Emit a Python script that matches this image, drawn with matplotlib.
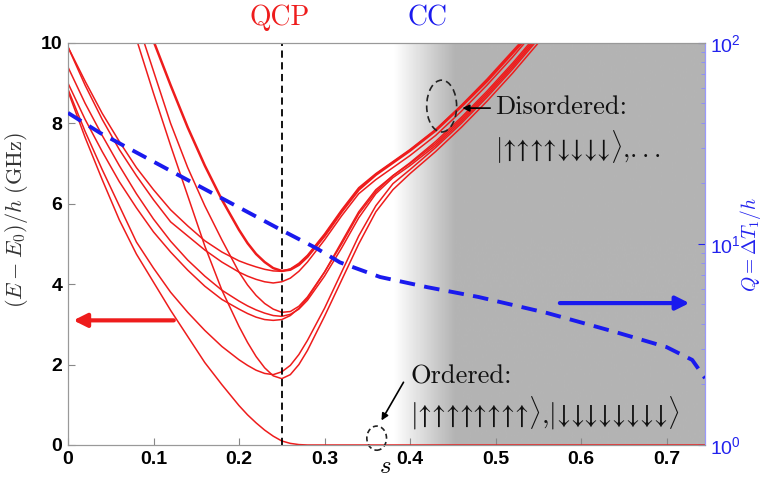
import numpy as np
import matplotlib
matplotlib.use("Agg")
import matplotlib.pyplot as plt
from matplotlib.patches import Ellipse

plt.rcParams['mathtext.fontset'] = 'cm'
plt.rcParams['font.family'] = ['Liberation Sans', 'DejaVu Sans']

nan = np.nan

# annealing parameter s (shared grid for the spectrum)
S = [0.00, 0.02, 0.04, 0.06, 0.08, 0.10, 0.12, 0.14, 0.16, 0.18, 0.20, 0.21, 0.22, 0.23,
     0.24, 0.25, 0.26, 0.27, 0.28, 0.30, 0.32, 0.34, 0.36, 0.38, 0.40, 0.43, 0.46, 0.49,
     0.52, 0.55, 0.745]

# (E - E0)/h in GHz
G  = [8.8, 7.65, 6.6, 5.6, 4.75, 4.05, 3.35, 2.7, 2.05, 1.5, 0.98, 0.75, 0.55, 0.37, 0.22,
      0.1, 0.04, 0.01, 0, 0, 0, 0, 0, 0, 0, 0, 0, 0, 0, 0, 0]
D1 = [8.85, 7.8, 6.85, 5.95, 5.05, 4.4, 3.8, 3.3, 2.85, 2.45, 2.12, 1.98, 1.86, 1.78, 1.75,
      1.82, 1.98, 2.25, 2.6, 3.4, 4.3, 5.2, 5.95, 6.5, 6.85, 7.4, 8.0, 8.65, 9.35, 10.1, nan]
D2 = [nan, nan, nan, nan, 10.1, 8.75, 7.45, 6.2, 4.95, 3.85, 2.95, 2.55, 2.2, 1.92, 1.72,
      1.65, 1.75, 2.0, 2.35, 3.2, 4.1, 5.0, 5.8, 6.35, 6.75, 7.3, 7.9, 8.55, 9.25, 10.0, nan]
C1 = [9.0, 8.1, 7.3, 6.55, 5.9, 5.3, 4.8, 4.35, 3.95, 3.62, 3.38, 3.27, 3.18, 3.12, 3.1,
      3.12, 3.22, 3.4, 3.65, 4.3, 5.05, 5.8, 6.35, 6.7, 7.0, 7.5, 8.1, 8.75, 9.45, 10.2, nan]
C2 = [9.4, 8.5, 7.7, 6.95, 6.25, 5.62, 5.07, 4.6, 4.2, 3.85, 3.58, 3.46, 3.36, 3.28, 3.22,
      3.2, 3.25, 3.38, 3.6, 4.2, 4.9, 5.65, 6.25, 6.65, 6.95, 7.45, 8.05, 8.7, 9.4, 10.15, nan]
C3 = [nan, nan, nan, nan, 10.6, 9.3, 8.0, 6.9, 5.95, 5.1, 4.3, 3.98, 3.72, 3.52, 3.38,
      3.3, 3.32, 3.45, 3.68, 4.3, 5.0, 5.75, 6.3, 6.7, 7.02, 7.55, 8.15, 8.8, 9.5, 10.25, nan]
B  = [9.9, 8.95, 8.1, 7.35, 6.7, 6.1, 5.55, 5.2, 4.85, 4.55, 4.3, 4.2, 4.12, 4.06, 4.03,
      4.06, 4.15, 4.32, 4.55, 5.1, 5.7, 6.25, 6.6, 6.9, 7.2, 7.7, 8.3, 8.95, 9.65, 10.4, nan]
A1 = [9.9, 9.05, 8.25, 7.55, 6.9, 6.35, 5.85, 5.45, 5.08, 4.8, 4.58, 4.5, 4.43, 4.37, 4.33,
      4.32, 4.38, 4.52, 4.72, 5.25, 5.85, 6.4, 6.75, 7.05, 7.35, 7.85, 8.45, 9.1, 9.8, 10.5, nan]
A2 = [nan, nan, nan, nan, 11.1, 10.05, 8.95, 7.9, 6.95, 6.1, 5.35, 5.02, 4.75, 4.55, 4.4,
      4.33, 4.36, 4.48, 4.68, 5.2, 5.8, 6.35, 6.72, 7.02, 7.32, 7.82, 8.42, 9.05, 9.75, 10.45, nan]

# Q = Delta T1 / h (right, log axis)
Q_S = [0.0, 0.038, 0.14, 0.25, 0.29, 0.318, 0.365, 0.42, 0.48, 0.56, 0.64, 0.70, 0.73, 0.745]
Q   = [44.9, 35.6, 20.8, 11.7, 9.55, 8.1, 6.85, 6.1, 5.45, 4.54, 3.65, 3.07, 2.65, 2.15]

S_QCP = 0.25
S_MAX = 0.745
RED = '#ee1c1c'
BLUE = '#1a1aee'
SERIF = ['cmr10', 'DejaVu Serif']

fig = plt.figure(figsize=(7.64, 4.84), dpi=100)
ax = fig.add_axes([0.089, 0.0806, 0.8338, 0.8306])

# shaded CC region with a soft left edge
grey = 0.705
ramp = np.concatenate([np.linspace(1.0, grey, 40), np.full(160, grey)])
ax.imshow(ramp[None, :], extent=[0.38, S_MAX, 0, 10], aspect='auto', cmap='gray',
          vmin=0, vmax=1, interpolation='bilinear', zorder=0)

for curve in [G, D1, D2, C1, C2, C3, B, A1]:
    ax.plot(S, curve, color=RED, lw=1.1, zorder=2)
ax.plot(S, A2, color=RED, lw=1.8, zorder=2)

ax.axvline(S_QCP, color='k', lw=1.3, ls=(0, (4, 2.5)), zorder=3)

ax.set_xlim(0, S_MAX)
ax.set_ylim(0, 10)
ax.set_xticks([0, 0.1, 0.2, 0.3, 0.4, 0.5, 0.6, 0.7])
ax.set_xticklabels(['0', '0.1', '0.2', '0.3', '0.4', '0.5', '0.6', '0.7'])
ax.set_yticks([0, 2, 4, 6, 8, 10])
ax.tick_params(direction='in', length=5, color='#888888', labelsize=14, pad=4)
for lab in ax.get_xticklabels() + ax.get_yticklabels():
    lab.set_fontweight('bold')
for sp in ax.spines.values():
    sp.set_color('#999999')
ax.set_ylabel(r'$(E-E_0)/h\ \mathrm{(GHz)}$', fontsize=16, color='#333333')
ax.yaxis.set_label_coords(-0.060, 0.56)
ax.text(0.371, -0.52, r'$s$', fontsize=18, ha='center', va='center', clip_on=False)

# arrows pointing to the axes
ax.annotate('', xy=(0.003, 3.1), xytext=(0.127, 3.1),
            arrowprops=dict(arrowstyle='-|>', color=RED, lw=3, mutation_scale=20))
ax.annotate('', xy=(0.73, 3.53), xytext=(0.572, 3.53),
            arrowprops=dict(arrowstyle='-|>', color=BLUE, lw=3, mutation_scale=20), zorder=6)

# labels on top
ax.text(0.248, 10.62, 'QCP', color=RED, fontsize=20, family=SERIF, ha='center', va='center')
ax.text(0.421, 10.62, 'CC', color=BLUE, fontsize=20, family=SERIF, ha='center', va='center')

# disordered states
ax.add_patch(Ellipse((0.437, 8.43), 0.035, 1.29, fill=False, ec='#222222', lw=1.2,
                     ls=(0, (4, 2.5)), zorder=4))
ax.annotate('', xy=(0.458, 8.38), xytext=(0.497, 8.38),
            arrowprops=dict(arrowstyle='-|>', color='k', lw=1.2, mutation_scale=10))
ax.text(0.499, 8.41, 'Disordered:', fontsize=19, family=SERIF, ha='left', va='center',
        color='#111111')
ax.text(0.499, 7.41, r'$|↑↑↑↑↓↓↓↓\rangle{,}...$',
        fontsize=19, ha='left', va='center', color='#111111')

# ordered states
ax.add_patch(Ellipse((0.361, 0.17), 0.023, 0.6, fill=False, ec='#222222', lw=1.2,
                     ls=(0, (3, 2)), clip_on=False, zorder=4))
ax.annotate('', xy=(0.365, 0.55), xytext=(0.394, 1.62),
            arrowprops=dict(arrowstyle='-|>', color='k', lw=1.2, mutation_scale=10))
ax.text(0.400, 1.69, 'Ordered:', fontsize=19, family=SERIF, ha='left', va='center',
        color='#111111')
ax.text(0.400, 0.80, r'$|↑↑↑↑↑↑↑↑\rangle{,}|↓↓↓↓↓↓↓↓\rangle$',
        fontsize=19.5, ha='left', va='center', color='#111111')

# right axis: Q on log scale
ax2 = ax.twinx()
ax2.plot(Q_S, Q, color=BLUE, lw=2.8, ls=(0, (4, 2.4)), zorder=5)
ax2.set_yscale('log')
ax2.set_ylim(1, 100)
ax2.set_xlim(0, S_MAX)
ax2.tick_params(axis='y', which='both', direction='in', colors='#2222ee', labelsize=14)
ax2.tick_params(axis='y', which='major', length=5)
ax2.tick_params(axis='y', which='minor', length=3, color='#8888ff')
for sp in ax2.spines.values():
    sp.set_color('#999999')
ax2.spines['right'].set_color('#9999ff')
ax2.set_ylabel(r'$Q=\Delta T_1/h$', fontsize=14, color='#2222ee')
ax2.yaxis.set_label_coords(1.052, 0.5)

fig.savefig('out.png', dpi=100)
